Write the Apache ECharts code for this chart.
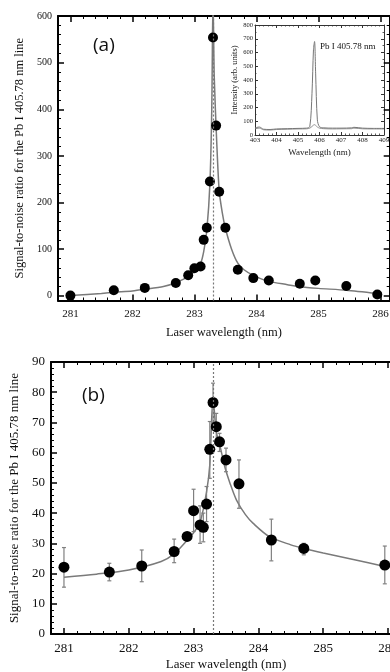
<!DOCTYPE html>
<html><head><meta charset="utf-8">
<script src="https://cdn.jsdelivr.net/npm/echarts@6/dist/echarts.min.js"></script>
<style>html,body{margin:0;padding:0;background:#fff}#c{width:390px;height:672px}</style>
</head><body><div id="c"></div>
<script>
// ---- Panel (a): SNR vs laser wavelength ----
const aWave = [281.0, 281.7, 282.2, 282.7, 282.9, 283.0, 283.1, 283.15, 283.2, 283.25, 283.3, 283.35, 283.4, 283.5, 283.7, 283.95, 284.2, 284.7, 284.95, 285.45, 285.95];
const aSNR  = [0.5, 12, 17, 27.5, 44, 59, 63, 120, 146, 245, 554, 365, 223, 146, 56, 38, 33, 26, 33, 21, 3];
const aFitWave = [281.0, 281.5, 281.7, 282.0, 282.2, 282.5, 282.7, 282.9, 283.0, 283.1, 283.15, 283.2, 283.25, 283.28, 283.3, 283.32, 283.36, 283.4, 283.45, 283.5, 283.6, 283.7, 283.8, 283.95, 284.2, 284.5, 284.7, 285.0, 285.45, 285.95];
const aFitSNR  = [0.5, 5, 7.5, 10.5, 14, 20, 28, 41, 52, 70, 95, 140, 240, 400, 640, 470, 330, 225, 178, 145, 100, 70, 56, 44, 31, 24, 19.5, 16, 12, 5];

// ---- Inset: emission spectra ----
const insetWave = [403.0, 403.2, 403.4, 403.7, 404.0, 404.5, 405.0, 405.4, 405.55, 405.65, 405.72, 405.77, 405.82, 405.9, 406.0, 406.2, 406.6, 407.0, 407.5, 407.6, 408.0, 408.5, 409.0];
const insetOnRes  = [52, 58, 42, 40, 44, 46, 48, 50, 62, 300, 620, 680, 450, 110, 60, 52, 50, 50, 52, 56, 50, 48, 48];
const insetOffRes = [45, 50, 38, 36, 40, 42, 44, 45, 50, 62, 72, 75, 70, 58, 50, 46, 44, 45, 46, 50, 45, 44, 44];

// ---- Panel (b): SNR with error bars ----
const bWave = [281.0, 281.7, 282.2, 282.7, 282.9, 283.0, 283.1, 283.15, 283.2, 283.25, 283.3, 283.35, 283.4, 283.5, 283.7, 284.2, 284.7, 285.95];
const bSNR  = [22.1, 20.5, 22.5, 27.3, 32.3, 40.8, 36.1, 35.3, 43.0, 61.1, 76.6, 68.6, 63.6, 57.6, 49.7, 31.1, 28.3, 22.8];
const bLow  = [15.5, 17.6, 17.3, 23.6, 31.3, 33.9, 30.0, 30.5, 37.2, 51.5, 70.0, 63.0, 60.4, 53.7, 41.6, 24.2, 26.2, 16.6];
const bHigh = [28.6, 23.4, 27.8, 31.4, 33.3, 47.9, 42.4, 40.0, 48.8, 70.3, 83.0, 73.0, 66.4, 61.5, 57.6, 38.0, 30.0, 29.1];
const bFitWave = [281.0, 281.5, 282.0, 282.5, 282.7, 282.9, 283.0, 283.1, 283.2, 283.25, 283.3, 283.35, 283.41, 283.48, 283.56, 283.66, 283.8, 283.92, 284.17, 284.5, 284.7, 285.0, 285.5, 285.95];
const bFitSNR  = [18.8, 19.8, 21.2, 24.0, 26.5, 31.0, 33.5, 37.0, 47.0, 56.0, 78.0, 67.0, 62.0, 55.4, 50.0, 44.4, 39.5, 36.6, 32.2, 29.5, 28.3, 26.8, 24.5, 22.3];

const peakWave = 283.3;
const yTitle = 'Signal-to-noise ratio for the Pb I 405.78 nm line';
const xTitle = 'Laser wavelength (nm)';

const SERIF = 'Liberation Serif';
const zip = (a, b) => a.map((v, i) => [v, b[i]]);

function xAx(grid, min, max, pos, labels, fs, opt) {
  return Object.assign({
    type: 'value', gridIndex: grid, min: min, max: max, position: pos,
    axisLine: {show: true, onZero: false, lineStyle: {color: '#000', width: 2}},
    axisTick: {show: true, inside: true, length: 6, lineStyle: {color: '#000', width: 1.5}},
    minorTick: {show: true, splitNumber: 5, length: 3, lineStyle: {color: '#000', width: 1}},
    splitLine: {show: false},
    axisLabel: {show: labels, showMinLabel: false, showMaxLabel: false, color: '#111', fontFamily: SERIF, fontSize: fs, margin: 8}
  }, opt || {});
}
function yAx(grid, min, max, pos, labels, fs, opt) {
  return Object.assign({
    type: 'value', gridIndex: grid, min: min, max: max, position: pos,
    axisLine: {show: true, onZero: false, lineStyle: {color: '#000', width: 2}},
    axisTick: {show: true, inside: true, length: 6, lineStyle: {color: '#000', width: 1.5}},
    minorTick: {show: true, splitNumber: 5, length: 3, lineStyle: {color: '#000', width: 1}},
    splitLine: {show: false},
    axisLabel: {show: labels, showMinLabel: min >= 0, color: '#111', fontFamily: SERIF, fontSize: fs, margin: 6}
  }, opt || {});
}

const chart = echarts.init(document.getElementById('c'), null, {renderer: 'canvas'});
const option = {
  animation: false,
  backgroundColor: '#fff',
  grid: [
    {left: 58, top: 16, width: 331.7, height: 284.5, outerBoundsMode: 'none', containLabel: false},
    {left: 255, top: 25, width: 129, height: 110, outerBoundsMode: 'none', containLabel: false},
    {left: 51, top: 362, width: 350, height: 272, outerBoundsMode: 'none', containLabel: false}
  ],
  xAxis: [
    xAx(0, 280.8, 286.15, 'bottom', true, 11, {name: xTitle, nameLocation: 'middle', nameGap: 26, nameTextStyle: {fontFamily: SERIF, fontSize: 12.5, color: '#111'}}),
    xAx(0, 280.8, 286.15, 'top', false, 11),
    xAx(1, 403, 409, 'bottom', true, 7, {interval: 1, name: 'Wavelength (nm)', nameLocation: 'middle', nameGap: 13,
      nameTextStyle: {fontFamily: SERIF, fontSize: 9, color: '#222'},
      axisLine: {show: true, onZero: false, lineStyle: {color: '#333', width: 1}},
      axisTick: {show: true, inside: true, length: 3, lineStyle: {color: '#333', width: 1}},
      minorTick: {show: true, splitNumber: 5, length: 1.5, lineStyle: {color: '#333', width: 0.8}},
      axisLabel: {show: true, color: '#222', fontFamily: SERIF, fontSize: 7, margin: 2}}),
    xAx(1, 403, 409, 'top', false, 7, {interval: 1,
      axisLine: {show: true, onZero: false, lineStyle: {color: '#333', width: 1}},
      axisTick: {show: true, inside: true, length: 3, lineStyle: {color: '#333', width: 1}},
      minorTick: {show: true, splitNumber: 5, length: 1.5, lineStyle: {color: '#333', width: 0.8}}}),
    xAx(2, 280.8, 286.2, 'bottom', true, 13, {name: xTitle, nameLocation: 'middle', nameGap: 24, nameTextStyle: {fontFamily: SERIF, fontSize: 13, color: '#111'}}),
    xAx(2, 280.8, 286.2, 'top', false, 13)
  ],
  yAxis: [
    yAx(0, -10, 600, 'left', true, 10, {name: yTitle, nameLocation: 'middle', nameGap: 29, nameTextStyle: {fontFamily: SERIF, fontSize: 12.5, color: '#111'}}),
    yAx(0, -10, 600, 'right', false, 10),
    yAx(1, 0, 800, 'left', true, 7, {interval: 100, name: 'Intensity (arb. units)', nameLocation: 'middle', nameGap: 16,
      nameTextStyle: {fontFamily: SERIF, fontSize: 8.5, color: '#222'},
      axisLine: {show: true, onZero: false, lineStyle: {color: '#333', width: 1}},
      axisTick: {show: true, inside: true, length: 3, lineStyle: {color: '#333', width: 1}},
      minorTick: {show: true, splitNumber: 2, length: 1.5, lineStyle: {color: '#333', width: 0.8}},
      axisLabel: {show: true, color: '#222', fontFamily: SERIF, fontSize: 6.5, margin: 2}}),
    yAx(1, 0, 800, 'right', false, 7, {interval: 100,
      axisLine: {show: true, onZero: false, lineStyle: {color: '#333', width: 1}},
      axisTick: {show: true, inside: true, length: 3, lineStyle: {color: '#333', width: 1}},
      minorTick: {show: true, splitNumber: 2, length: 1.5, lineStyle: {color: '#333', width: 0.8}}}),
    yAx(2, 0, 90, 'left', true, 13, {interval: 10, name: yTitle, nameLocation: 'middle', nameGap: 26, nameTextStyle: {fontFamily: SERIF, fontSize: 13, color: '#111'}}),
    yAx(2, 0, 90, 'right', false, 13, {interval: 10})
  ],
  series: [
    // panel (a)
    {type: 'line', xAxisIndex: 0, yAxisIndex: 0, data: zip(aFitWave, aFitSNR), showSymbol: false, smooth: 0.25, clip: true,
      lineStyle: {color: '#7a7a7a', width: 1.5}, z: 2,
      markLine: {silent: true, symbol: 'none', label: {show: false}, lineStyle: {color: '#777', type: [2, 2], width: 1.2}, data: [{xAxis: peakWave}]}},
    {type: 'scatter', xAxisIndex: 0, yAxisIndex: 0, data: zip(aWave, aSNR), symbolSize: 10, itemStyle: {color: '#000', opacity: 1}, z: 3},
    // inset
    {type: 'line', xAxisIndex: 2, yAxisIndex: 2, data: zip(insetWave, insetOffRes), showSymbol: false, smooth: 0.3,
      lineStyle: {color: '#888', width: 0.9}, z: 4},
    {type: 'line', xAxisIndex: 2, yAxisIndex: 2, data: zip(insetWave, insetOnRes), showSymbol: false, smooth: 0.3,
      lineStyle: {color: '#777', width: 1}, z: 4},
    // panel (b)
    {type: 'line', xAxisIndex: 4, yAxisIndex: 4, data: zip(bFitWave, bFitSNR), showSymbol: false, smooth: 0.3, clip: true,
      lineStyle: {color: '#7a7a7a', width: 1.5}, z: 2,
      markLine: {silent: true, symbol: 'none', label: {show: false}, lineStyle: {color: '#777', type: [2, 2], width: 1.2}, data: [{xAxis: peakWave}]}},
    {type: 'custom', xAxisIndex: 4, yAxisIndex: 4, data: bWave.map((w, i) => [w, bLow[i], bHigh[i]]), z: 3,
      renderItem: function (params, api) {
        const p1 = api.coord([api.value(0), api.value(2)]);
        const p2 = api.coord([api.value(0), api.value(1)]);
        const w = 2, st = {stroke: '#808080', lineWidth: 1.2};
        return {type: 'group', children: [
          {type: 'line', shape: {x1: p1[0], y1: p1[1], x2: p2[0], y2: p2[1]}, style: st},
          {type: 'line', shape: {x1: p1[0] - w, y1: p1[1], x2: p1[0] + w, y2: p1[1]}, style: st},
          {type: 'line', shape: {x1: p2[0] - w, y1: p2[1], x2: p2[0] + w, y2: p2[1]}, style: st}
        ]};
      }},
    {type: 'scatter', xAxisIndex: 4, yAxisIndex: 4, data: zip(bWave, bSNR), symbolSize: 11, itemStyle: {color: '#000', opacity: 1}, z: 4}
  ],
  graphic: [
    {type: 'rect', left: 255, top: 25, shape: {width: 129, height: 110}, style: {fill: '#fff'}, z: -1, silent: true},
    {type: 'text', left: 93, top: 36, style: {text: '(a)', font: '19px "Open Sans", sans-serif', fill: '#111'}},
    {type: 'text', left: 82, top: 386, style: {text: '(b)', font: '19px "Open Sans", sans-serif', fill: '#111'}},
    {type: 'text', left: 320, top: 42, style: {text: 'Pb I 405.78 nm', font: '9px "Liberation Serif", serif', fill: '#111'}}
  ]
};
chart.setOption(option);
</script>
</body></html>
